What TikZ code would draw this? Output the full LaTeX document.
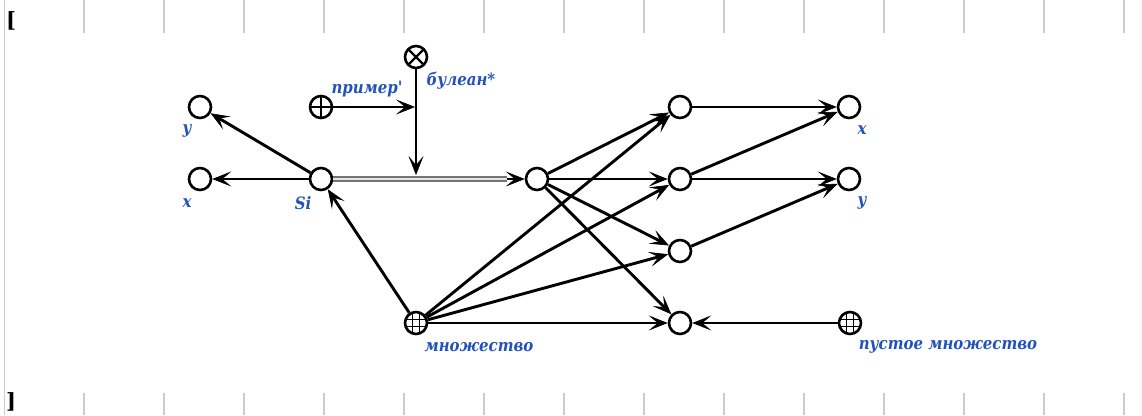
\documentclass[tikz,border=0pt]{standalone}
\usepackage{fontspec}
\newfontfamily\labfont{DejaVu Serif}[FakeStretch=0.88]
\newfontfamily\brfont{DejaVu Serif}
\usetikzlibrary{arrows.meta,calc}
\definecolor{labblue}{RGB}{34,82,184}
\definecolor{tickgray}{RGB}{204,204,204}
\begin{document}
\begin{tikzpicture}[x=1pt,y=-1pt,
  vert/.style={circle, draw, line width=2.6pt, fill=white, minimum size=22pt, inner sep=0pt},
  plusv/.style={vert, path picture={
      \draw[line width=2.2pt] (path picture bounding box.north) -- (path picture bounding box.south);
      \draw[line width=2.2pt] (path picture bounding box.west) -- (path picture bounding box.east);}},
  timesv/.style={vert, path picture={
      \draw[line width=2.2pt] (path picture bounding box.north west) -- (path picture bounding box.south east);
      \draw[line width=2.2pt] (path picture bounding box.north east) -- (path picture bounding box.south west);}},
  gridv/.style={vert, path picture={
      \foreach \d in {-3.4,3.4}{
        \draw[line width=1.5pt] ($(path picture bounding box.north)+(\d,0)$) -- ($(path picture bounding box.south)+(\d,0)$);
        \draw[line width=1.5pt] ($(path picture bounding box.west)+(0,\d)$) -- ($(path picture bounding box.east)+(0,\d)$);}}},
  conn/.style={line width=2.9pt, -{Stealth[length=19pt,width=15pt,inset=9pt,line width=0.6pt]}},
  dbl/.style={draw=black!55, line width=1.8pt, double=white!90!black, double distance=1.7pt},
  lab/.style={text=labblue, font=\labfont\bfseries\itshape\fontsize{17}{20}\selectfont, inner sep=0pt},
  br/.style={font=\brfont\bfseries\fontsize{21}{24}\selectfont, inner sep=0pt},
  tick/.style={draw=tickgray, line width=1.2pt}
]
\useasboundingbox (0,0) rectangle (1142,415);
% frame decorations
\draw[tick, line width=1.6pt] (4.3,0) -- (4.3,415);
\foreach \k in {0,...,13}{
  \draw[tick] ({84+80*\k},0) -- ({84+80*\k},33);
  \draw[tick] ({84+80*\k},393) -- ({84+80*\k},415);
}
\node[br] (bro) at (11,21) {[};
\node[br] (brc) at (11,402) {]};

% vertices
\node[vert] (yl) at (200,107) {};
\node[vert] (xl) at (200,179) {};
\node[vert] (Si) at (321,179) {};
\node[plusv] (pl) at (321,107) {};
\node[timesv] (ot) at (416,57) {};
\node[vert] (mid) at (537,179) {};
\node[vert] (a1) at (680,107) {};
\node[vert] (a2) at (680,179) {};
\node[vert] (a3) at (680,251) {};
\node[vert] (a4) at (680,323) {};
\node[vert] (b1) at (849,107) {};
\node[vert] (b2) at (849,179) {};
\node[gridv] (mn) at (416,323) {};
\node[gridv] (pm) at (850,323) {};
\coordinate (j1) at (415,107);
\coordinate (j2) at (416,175);

% labels
\node[lab] (lyl) at (187,131) {y};
\node[lab] (lxl) at (187,203) {x};
\node[lab] (lSi) at (303,203) {Si};
\node[lab] (lpl) at (367,89) {пример'};
\node[lab] (lot) at (461,81) {булеан*};
\node[lab] (lmn) at (479,347) {множество};
\node[lab] (lb1) at (862,130) {x};
\node[lab] (lb2) at (862,203) {y};
\node[lab] (lpm) at (948,347) {пустое множество};

% connectors
\draw[conn] (Si) -- (yl);
\draw[conn] (Si) -- (xl);
\draw[conn] (Si) -- (mid);
\draw[dbl, shorten >=18pt] (Si) -- (mid);
\draw[conn] (pl) -- (j1);
\draw[conn] (ot) -- (j2);
\foreach \t in {a1,a2,a3,a4}{
  \draw[conn] (mid) -- (\t);
  \draw[conn] (mn) -- (\t);
}
\draw[conn] (mn) -- (Si);
\draw[conn] (a1) -- (b1);
\draw[conn] (a2) -- (b1);
\draw[conn] (a2) -- (b2);
\draw[conn] (a3) -- (b2);
\draw[conn] (pm) -- (a4);
\end{tikzpicture}
\end{document}
